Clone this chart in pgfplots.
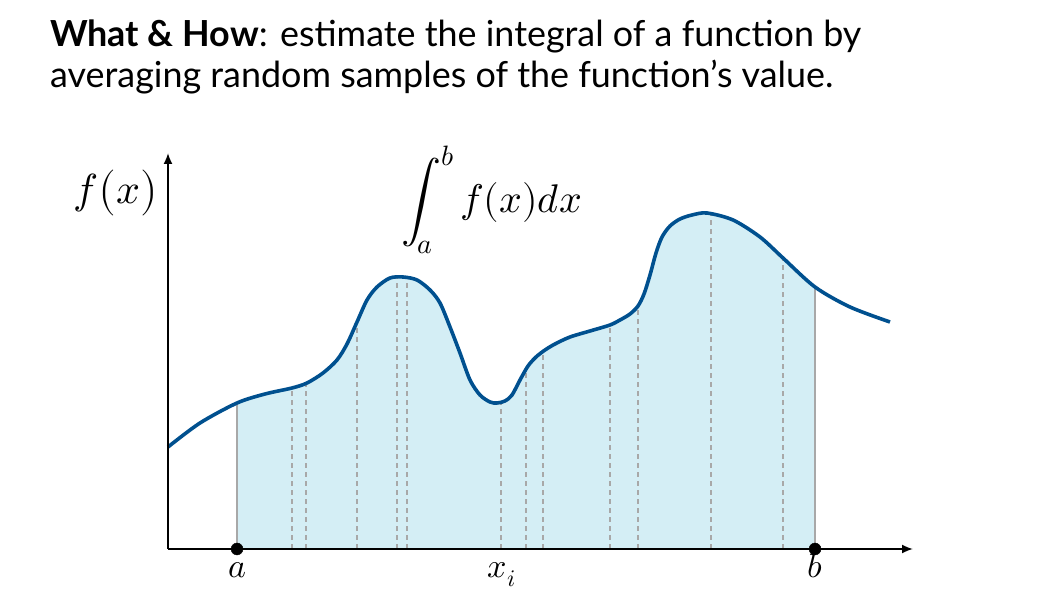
\documentclass[border=0pt]{standalone}
\usepackage{fontspec}
\usepackage{unicode-math}
\setmainfont{Lato}
\setmathfont{Latin Modern Math}
\usepackage{pgfplots}
\pgfplotsset{compat=1.18}
\usepgfplotslibrary{fillbetween}
\usetikzlibrary{arrows.meta}
\definecolor{curveblue}{HTML}{00508F}
\definecolor{fillblue}{HTML}{D4EEF5}
\definecolor{dashgray}{HTML}{A8A8A8}
\pgfplotstableread{
x y
168 102
200 126
237 146
265 155
292 161
307 166
323 176
337 189
347 205
357 227
367 249
377 262
390 271
403 272
417 269
430 259
440 246
450 222
460 196
470 169
480 154
490 147
497 146
505 148
512 154
520 169
528 183
536 192
545 199
555 205
570 212
590 218
610 224
620 229
630 235
638 243
644 255
650 274
656 296
662 312
670 323
680 330
692 334
707 336
733 329
760 312
783 291
815 262
850 242
890 227
}\curvedata
\begin{document}
\begin{tikzpicture}
\begin{axis}[
  at={(168pt,61pt)}, anchor=south west,
  scale only axis, width=745pt, height=396pt,
  xmin=168, xmax=913, ymin=0, ymax=396,
  axis lines=left,
  axis line style={line width=1.8pt, -{Latex[length=11pt,width=9pt]}},
  xtick=\empty, ytick=\empty,
  clip=false, axis on top,
]
\addplot[name path=base, draw=none] coordinates {(168,0) (913,0)};
\addplot[name path=f, draw=none, smooth] table {\curvedata};
\addplot[fill=fillblue, draw=none] fill between[of=f and base, soft clip={domain=237:815}];
\addplot[ycomb, no markers, color=dashgray, line width=1.8pt, dash pattern=on 5pt off 4pt] coordinates {
(292,161) (306,166) (357,227) (397,271) (407,272) (501,147) (526,180) (543,197)
(610,224) (638,243) (711,336) (783,291)};
\addplot[ycomb, no markers, color=dashgray, line width=1.8pt] coordinates {(237,146) (815,262)};
\addplot[color=curveblue, line width=3.6pt, smooth] table {\curvedata};
\addplot[only marks, mark=*, mark size=6pt, color=black] coordinates {(237,0) (815,0)};
\node[anchor=base] at (axis cs:237,-29) {\fontsize{34}{40}\selectfont$a$};
\node[anchor=base] at (axis cs:502,-29) {\fontsize{34}{40}\selectfont$x_i$};
\node[anchor=base] at (axis cs:815,-29) {\fontsize{34}{40}\selectfont$b$};
\node[anchor=base east, inner sep=0pt] at (axis cs:158,345) {\fontsize{42}{48}\selectfont$f\bigl(x\bigr)$};
\node[anchor=base west, inner sep=0pt] at (axis cs:401,336) {\fontsize{40}{48}\selectfont$\displaystyle\int_a^b f(x)dx$};
\node[anchor=base west, inner sep=0pt] at (axis cs:50,502) {\fontsize{35.9}{42}\selectfont\textbf{What \& How}: estimate the integral of a function by};
\node[anchor=base west, inner sep=0pt] at (axis cs:50,461) {\fontsize{35.9}{42}\selectfont averaging random samples of the function’s value.};
\end{axis}
\pgfresetboundingbox
\path[use as bounding box] (0,0) rectangle (1055pt,610pt);
\end{tikzpicture}
\end{document}
